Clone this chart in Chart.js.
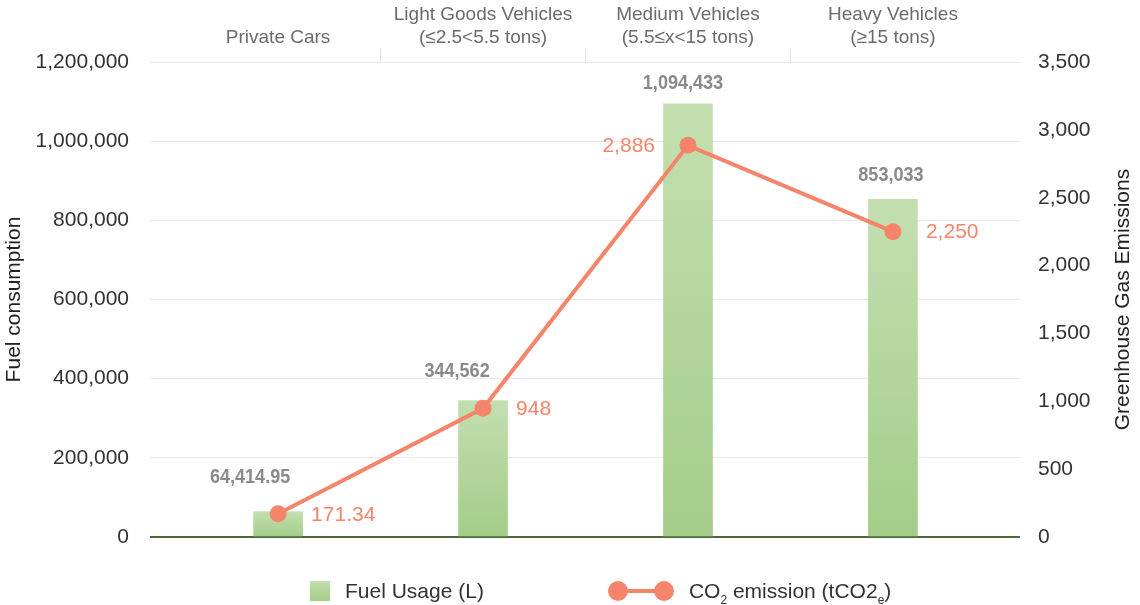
<!DOCTYPE html>
<html>
<head>
<meta charset="utf-8">
<script src="https://cdn.jsdelivr.net/npm/chart.js@4/dist/chart.umd.min.js"></script>
<style>
  html, body { margin: 0; padding: 0; background: #fff; }
  #wrap { position: relative; width: 1140px; height: 605px; }
  #legend {
    position: absolute; left: 310px; top: 579px; height: 24px;
    display: flex; align-items: center;
    font: 21px "Liberation Sans", Arial, sans-serif; color: #333;
  }
  .item { display: flex; align-items: center; }
  .item + .item { margin-left: 124px; }
  .swatch { width: 20px; height: 20px; margin-right: 15px; }
  .lineIcon { position: relative; width: 66px; height: 20px; margin-right: 15px; }
  .lineIcon .bar { position: absolute; left: 8px; right: 8px; top: 8px; height: 4px; }
  .lineIcon .dot { position: absolute; top: 0; width: 20px; height: 20px; border-radius: 50%; }
  sub { font-size: 12px; vertical-align: -6px; line-height: 0; }
</style>
</head>
<body>
<div id="wrap">
  <canvas id="chart"></canvas>
  <div id="legend"></div>
</div>
<script>
const categories = [
  ["Private Cars"],
  ["Light Goods Vehicles", "(≤2.5<5.5 tons)"],
  ["Medium Vehicles", "(5.5≤x<15 tons)"],
  ["Heavy Vehicles", "(≥15 tons)"]
];
const fuelUsage = [64414.95, 344562, 1094433, 853033];
const co2Emission = [171.34, 948, 2886, 2250];

const fuelTicks = [0, 200000, 400000, 600000, 800000, 1000000, 1200000];
const ghgTicks = [0, 500, 1000, 1500, 2000, 2500, 3000, 3500];

// hand placed value labels in the original, nudged per bar
const fuelLabelShift = [[-28, -34], [-26, -29], [-5, -21], [-2, -24]];
const co2LabelSide = ["right", "right", "left", "right"];

const FONT = '"Liberation Sans", Arial, sans-serif';
const ORANGE = "#f4856a";
const GREEN_TOP = "#c3dfb0";
const GREEN_BOTTOM = "#a3cd88";

const fmt = (v) => v.toLocaleString("en-US", { maximumFractionDigits: 2 });

const valueLabels = {
  id: "valueLabels",
  afterDatasetsDraw(chart) {
    const ctx = chart.ctx;
    const bars = chart.getDatasetMeta(0).data;
    const points = chart.getDatasetMeta(1).data;

    ctx.save();
    ctx.fillStyle = "#8a8a8a";
    ctx.font = "bold 21px " + FONT;
    ctx.textAlign = "center";
    ctx.textBaseline = "middle";
    bars.forEach((bar, i) => {
      const [dx, dy] = fuelLabelShift[i];
      ctx.save();
      ctx.translate(bar.x + dx, bar.y + dy);
      ctx.scale(0.86, 1);
      ctx.fillText(fmt(fuelUsage[i]), 0, 0);
      ctx.restore();
    });

    ctx.fillStyle = ORANGE;
    ctx.font = "21px " + FONT;
    points.forEach((pt, i) => {
      const left = co2LabelSide[i] === "left";
      ctx.textAlign = left ? "right" : "left";
      ctx.fillText(fmt(co2Emission[i]), pt.x + (left ? -33 : 33), pt.y + 1);
    });
    ctx.restore();
  }
};

const rightTitle = {
  id: "rightTitle",
  afterDraw(chart) {
    const s = chart.scales.y1;
    const a = chart.chartArea;
    const ctx = chart.ctx;
    ctx.save();
    ctx.translate(s.right - 17, (a.top + a.bottom) / 2);
    ctx.rotate(-Math.PI / 2);
    ctx.font = "21px " + FONT;
    ctx.fillStyle = "#222";
    ctx.textAlign = "center";
    ctx.textBaseline = "middle";
    ctx.fillText(s.options.title.text, 0, 0);
    ctx.restore();
  }
};

const htmlLegend = {
  id: "htmlLegend",
  afterUpdate(chart) {
    const box = document.getElementById("legend");
    box.innerHTML = "";
    chart.data.datasets.forEach((ds) => {
      const item = document.createElement("div");
      item.className = "item";
      if (ds.type === "line") {
        item.innerHTML =
          '<div class="lineIcon"><div class="bar" style="background:' + ds.borderColor + '"></div>' +
          '<div class="dot" style="left:0;background:' + ds.borderColor + '"></div>' +
          '<div class="dot" style="right:0;background:' + ds.borderColor + '"></div></div>' +
          "<span>" + ds.legendHtml + "</span>";
      } else {
        item.innerHTML =
          '<div class="swatch" style="background:linear-gradient(' + GREEN_TOP + "," + GREEN_BOTTOM + ')"></div>' +
          "<span>" + ds.legendHtml + "</span>";
      }
      box.appendChild(item);
    });
  }
};

new Chart(document.getElementById("chart"), {
  type: "bar",
  data: {
    datasets: [
      {
        label: "Fuel Usage (L)",
        legendHtml: "Fuel Usage (L)",
        data: fuelUsage.map((v, i) => ({ x: i, y: v })),
        xAxisID: "x",
        yAxisID: "y",
        order: 1,
        barThickness: 49,
        backgroundColor(c) {
          const chart = c.chart;
          if (!chart.chartArea || !c.parsed) return GREEN_BOTTOM;
          const y = chart.scales.y;
          const top = y.getPixelForValue(c.parsed.y);
          const bottom = y.getPixelForValue(0);
          if (!isFinite(top) || bottom - top < 1) return GREEN_BOTTOM;
          const g = chart.ctx.createLinearGradient(0, top, 0, bottom);
          g.addColorStop(0, GREEN_TOP);
          g.addColorStop(1, GREEN_BOTTOM);
          return g;
        }
      },
      {
        type: "line",
        label: "CO2 emission (tCO2e)",
        legendHtml: "CO<sub>2</sub> emission (tCO2<sub>e</sub>)",
        data: co2Emission.map((v, i) => ({ x: i, y: v })),
        xAxisID: "x",
        yAxisID: "y1",
        order: 0,
        borderColor: ORANGE,
        backgroundColor: ORANGE,
        borderWidth: 4,
        pointRadius: 8.5,
        pointBorderWidth: 0,
        pointBackgroundColor: ORANGE,
        tension: 0
      }
    ]
  },
  options: {
    responsive: true,
    maintainAspectRatio: false,
    animation: false,
    events: [],
    layout: { padding: { top: 0, bottom: 68, left: 0, right: 0 } },
    plugins: {
      legend: { display: false },
      tooltip: { enabled: false }
    },
    scales: {
      x: {
        type: "linear",
        display: false,
        offset: false,
        min: -0.625,
        max: 3.62
      },
      xTop: {
        type: "linear",
        position: "top",
        offset: false,
        min: -0.625,
        max: 3.62,
        afterBuildTicks(s) {
          s.ticks = categories.map((c, i) => ({ value: i }));
        },
        afterFit(s) { s.height = 62; },
        border: { display: false },
        grid: {
          offset: true,
          drawOnChartArea: false,
          drawTicks: true,
          tickLength: 14,
          color: (c) => (c.index >= 1 && c.index <= 3 ? "#e3e3e3" : "rgba(0,0,0,0)")
        },
        ticks: {
          autoSkip: false,
          maxRotation: 0,
          padding: -1,
          color: "#6b6b6b",
          font: { family: FONT, size: 19, lineHeight: "23px" },
          callback: (v) => categories[v]
        }
      },
      y: {
        position: "left",
        min: 0,
        max: 1200000,
        afterBuildTicks(s) { s.ticks = fuelTicks.map((v) => ({ value: v })); },
        afterFit(s) { s.width = 150; },
        border: { display: false },
        grid: {
          drawTicks: false,
          color: (c) => (c.tick && c.tick.value === 0 ? "#4b6b35" : "#e8e8e8"),
          lineWidth: (c) => (c.tick && c.tick.value === 0 ? 2 : 1)
        },
        ticks: {
          padding: 21,
          color: "#333",
          font: { family: FONT, size: 21 },
          callback: (v) => fmt(v)
        },
        title: {
          display: true,
          text: "Fuel consumption",
          color: "#222",
          font: { family: FONT, size: 21 },
          padding: { top: 2, bottom: 0 }
        }
      },
      y1: {
        position: "right",
        min: 0,
        max: 3500,
        afterBuildTicks(s) { s.ticks = ghgTicks.map((v) => ({ value: v })); },
        afterFit(s) { s.width = 120; },
        border: { display: false },
        grid: { display: false, drawTicks: false },
        ticks: {
          padding: 18,
          color: "#333",
          font: { family: FONT, size: 21 },
          callback: (v) => fmt(v)
        },
        title: { display: false, text: "Greenhouse Gas Emissions" }
      }
    }
  },
  plugins: [valueLabels, rightTitle, htmlLegend]
});
</script>
</body>
</html>
